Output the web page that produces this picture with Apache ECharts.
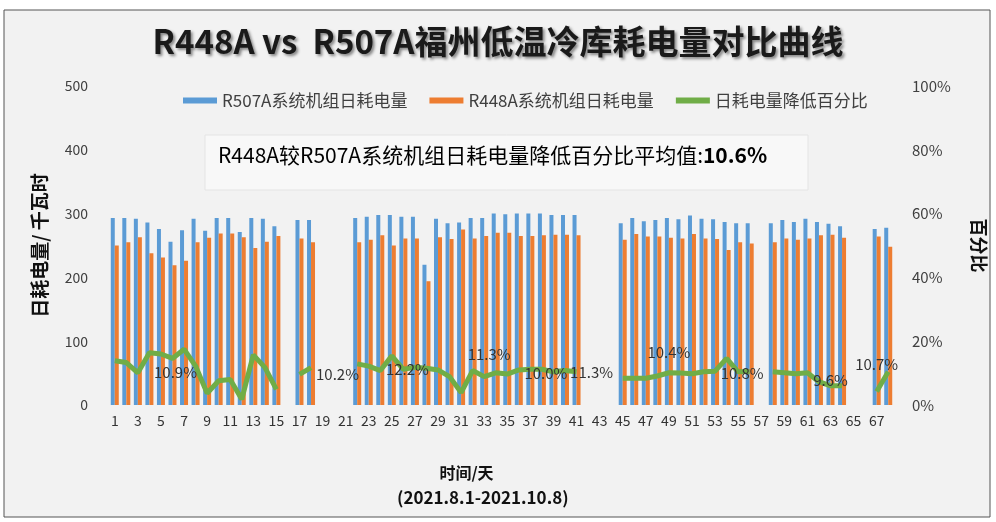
<!DOCTYPE html>
<html>
<head>
<meta charset="utf-8">
<script src="https://cdn.jsdelivr.net/npm/echarts@6/dist/echarts.min.js"></script>
<style>
html,body{margin:0;padding:0;background:#fff;}
#main{width:996px;height:522px;}
</style>
</head>
<body>
<div id="main"></div>
<script>
// 天数 (2021.8.1 - 2021.10.8)
var days = ['1','2','3','4','5','6','7','8','9','10','11','12','13','14','15','16','17','18','19','20',
	'21','22','23','24','25','26','27','28','29','30','31','32','33','34','35','36','37','38','39','40',
	'41','42','43','44','45','46','47','48','49','50','51','52','53','54','55','56','57','58','59','60',
	'61','62','63','64','65','66','67','68'];

// R507A系统机组日耗电量 (千瓦时)
var r507 = [293,293,292,286,276,256,274,292,273,293, 293,271,293,292,280,null,290,290,null,null,
	null,293,295,298,298,295,295,220,292,285, 286,293,293,300,299,300,300,300,298,298,
	298,null,null,null,285,293,288,290,293,291, 297,292,291,287,285,285,null,285,290,287,
	292,287,284,280,null,null,276,278];

// R448A系统机组日耗电量 (千瓦时)
var r448 = [250,255,263,238,231,219,226,255,262,269, 269,263,246,256,265,null,261,255,null,null,
	null,255,259,266,250,261,261,194,263,260, 275,261,265,270,270,265,265,266,267,267,
	266,null,null,null,259,268,264,264,262,261, 268,261,260,243,255,253,null,255,261,259,
	261,266,267,262,null,null,264,248];

// 日耗电量降低百分比 (%)
var pct = [13.9,13.3,10.1,16.4,16.0,14.6,17.5,12.2,3.7,7.6, 8.0,1.8,15.7,11.8,4.9,null,9.6,11.7,null,null,
	null,12.9,12.2,10.8,15.4,11.2,11.8,11.5,11.0,8.9, 3.9,10.8,8.9,10.1,9.7,11.0,11.2,11.2,10.4,10.8,
	10.4,null,null,null,8.4,8.4,8.4,9.1,10.1,10.0, 9.8,10.4,10.6,14.6,10.4,10.5,null,10.4,10.1,9.8,
	10.1,7.3,6.0,6.0,null,null,4.2,10.4];

// 折线上的数据标签
var noteDays = [6, 18, 26, 33, 38, 41, 49, 55, 63, 67];
var noteText = ['10.9%','10.2%','12.2%','11.3%','10.0%','11.3%','10.4%','10.8%','9.6%','10.7%'];
var noteOffset = [[3,14],[0,7],[4,0],[5,-22],[4,4],[15,0],[0,-20],[4,1],[0,-6],[0,-27]];

var leftTicks = [0, 500, 100];
var rightTicks = [0, 100, 20];

var cjk = '"Noto Sans CJK SC", "Noto Sans", sans-serif';

var lineData = [];
for (var i = 0; i < pct.length; i++) {
	var item = { value: pct[i] };
	var k = noteDays.indexOf(i + 1);
	if (k != -1) {
		item.label = {
			show: true,
			position: k == 1 ? 'right' : 'inside',
			formatter: noteText[k],
			offset: noteOffset[k],
			color: '#333',
			fontSize: 15,
			fontFamily: cjk
		};
	}
	lineData.push(item);
}

var myChart = echarts.init(document.getElementById('main'));

var option = {
	backgroundColor: '#ffffff',
	textStyle: { fontFamily: cjk },
	title: {
		text: 'R448A vs  R507A福州低温冷库耗电量对比曲线',
		left: 'center',
		top: 20,
		textStyle: {
			fontSize: 33,
			fontWeight: 'bold',
			color: '#1a1a1a',
			fontFamily: cjk,
			textShadowColor: 'rgba(0,0,0,0.45)',
			textShadowBlur: 3,
			textShadowOffsetX: 2,
			textShadowOffsetY: 2
		}
	},
	legend: {
		left: 178,
		top: 87,
		itemWidth: 34,
		itemHeight: 6,
		itemGap: 22,
		textStyle: { fontSize: 17, color: '#404040', fontFamily: cjk },
		data: [
			{ name: 'R507A系统机组日耗电量', icon: 'rect' },
			{ name: 'R448A系统机组日耗电量', icon: 'rect' },
			{ name: '日耗电量降低百分比', icon: 'rect' }
		]
	},
	grid: { left: 109, right: 94, top: 86, bottom: 117 },
	xAxis: {
		type: 'category',
		data: days,
		axisLine: { show: false },
		axisTick: { show: false },
		axisLabel: { interval: 1, color: '#333', fontSize: 14, margin: 9 },
		name: '时间/天',
		nameLocation: 'middle',
		nameGap: 60,
		nameTextStyle: { fontSize: 16, fontWeight: 'bold', color: '#111', padding: [0, 70, 0, 0] }
	},
	yAxis: [
		{
			type: 'value',
			min: leftTicks[0],
			max: leftTicks[1],
			interval: leftTicks[2],
			splitLine: { show: false },
			axisLine: { show: false },
			axisTick: { show: false },
			axisLabel: { color: '#404040', fontSize: 14, margin: 21 },
			name: '日耗电量/ 千瓦时',
			nameLocation: 'middle',
			nameGap: 60,
			nameTextStyle: { fontSize: 19, fontWeight: 'bold', color: '#111' }
		},
		{
			type: 'value',
			min: rightTicks[0],
			max: rightTicks[1],
			interval: rightTicks[2],
			splitLine: { show: false },
			axisLine: { show: false },
			axisTick: { show: false },
			axisLabel: { color: '#404040', fontSize: 15, margin: 18, formatter: '{value}%' },
			name: '百分比',
			nameLocation: 'middle',
			nameRotate: -90,
			nameGap: 76,
			nameTextStyle: { fontSize: 18, fontWeight: 'bold', color: '#111' }
		}
	],
	graphic: [
		{
			type: 'rect',
			z: -10,
			shape: { x: 4, y: 10, width: 986, height: 507 },
			style: { fill: '#f2f2f2', stroke: '#555', lineWidth: 1 }
		},
		{
			type: 'rect',
			z: -5,
			shape: { x: 205, y: 135, width: 603, height: 55 },
			style: { fill: '#f8f8f8', stroke: '#e4e4e4', lineWidth: 1 }
		},
		{
			type: 'text',
			left: 218,
			top: 145,
			style: {
				text: '{a|R448A较R507A系统机组日耗电量降低百分比平均值:}{b|10.6%}',
				rich: {
					a: { fontSize: 21, color: '#222', fontFamily: cjk },
					b: { fontSize: 21, color: '#222', fontWeight: 'bold', fontFamily: cjk }
				}
			}
		},
		{
			type: 'text',
			left: 397,
			top: 489,
			style: {
				text: '(2021.8.1-2021.10.8)',
				fontSize: 17,
				fontWeight: 'bold',
				fill: '#111',
				fontFamily: cjk
			}
		}
	],
	series: [
		{
			name: 'R507A系统机组日耗电量',
			type: 'bar',
			barWidth: 4,
			barGap: '0%',
			itemStyle: { color: '#5b9bd5' },
			data: r507
		},
		{
			name: 'R448A系统机组日耗电量',
			type: 'bar',
			barWidth: 4,
			barGap: '0%',
			itemStyle: { color: '#ed7d31' },
			data: r448
		},
		{
			name: '日耗电量降低百分比',
			type: 'line',
			yAxisIndex: 1,
			symbol: 'circle',
			symbolSize: 0.01,
			showSymbol: true,
			lineStyle: { color: '#70ad47', width: 5 },
			itemStyle: { color: '#70ad47' },
			z: 5,
			data: lineData
		}
	]
};

myChart.setOption(option);
</script>
</body>
</html>
